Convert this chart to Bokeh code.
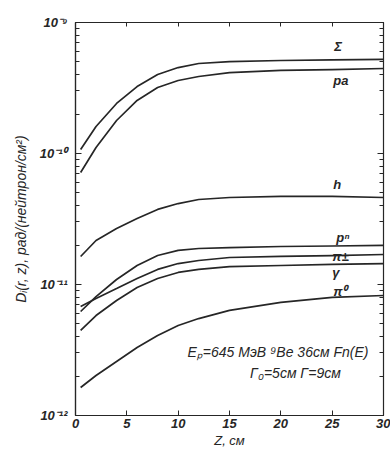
from bokeh.plotting import figure
from bokeh.models import (Range1d, LogAxis, LinearAxis, FixedTicker,
                          CustomJSTickFormatter, Label)
from bokeh.core.properties import value
from bokeh.embed import file_html
from bokeh.resources import INLINE

# depth z, cm
z = [0.5, 2, 4, 6, 8, 10, 12, 15, 20, 25, 30]

# log10 of dose values, rad/(neutron/cm^2)
sigma_log = [-9.969, -9.794, -9.618, -9.489, -9.397, -9.344, -9.313, -9.298, -9.290, -9.286, -9.282]
pa_log    = [-10.145, -9.954, -9.748, -9.595, -9.496, -9.443, -9.412, -9.382, -9.366, -9.359, -9.351]
h_log     = [-10.786, -10.664, -10.573, -10.496, -10.427, -10.382, -10.351, -10.336, -10.328, -10.328, -10.336]
p_log     = [-11.206, -11.092, -10.962, -10.855, -10.779, -10.740, -10.725, -10.718, -10.710, -10.706, -10.702]
pipm_log  = [-11.168, -11.107, -11.031, -10.954, -10.885, -10.840, -10.817, -10.794, -10.786, -10.779, -10.771]
gamma_log = [-11.351, -11.237, -11.122, -11.023, -10.954, -10.908, -10.885, -10.863, -10.855, -10.847, -10.840]
pi0_log   = [-11.786, -11.695, -11.588, -11.481, -11.389, -11.313, -11.260, -11.198, -11.137, -11.099, -11.084]

series = [sigma_log, pa_log, h_log, p_log, pipm_log, gamma_log, pi0_log]
names = ["Σ", "pa", "h", "pⁿ", "π±", "γ", "π⁰"]
# label positions (z, log10 D)
label_z = [25.2, 25.1, 25.1, 25.4, 25.0, 25.0, 25.1]
label_y = [-9.183, -9.443, -10.237, -10.641, -10.786, -10.905, -11.053]

x_ticks = [0, 5, 10, 15, 20, 25, 30]
y_ticks = [1e-12, 1e-11, 1e-10, 1e-9]
y_minor = [m * 10.0 ** e for e in (-12, -11, -10) for m in range(2, 10)]

FONT = "Liberation Sans"
INK = "#262626"

p = figure(width=390, height=452, output_backend="svg", toolbar_location=None,
           x_range=Range1d(0, 30), y_range=Range1d(1e-12, 1e-9),
           y_axis_type="log",
           min_border_left=75, min_border_top=22, min_border_right=7,
           min_border_bottom=37)
p.background_fill_color = "white"
p.border_fill_color = "white"
p.outline_line_color = INK
p.outline_line_width = 1.2
p.xgrid.visible = False
p.ygrid.visible = False

sup = CustomJSTickFormatter(code="""
const m = {'-':'⁻','0':'⁰','1':'¹','2':'²','3':'³','4':'⁴','5':'⁵','6':'⁶','7':'⁷','8':'⁸','9':'⁹'};
const e = Math.round(Math.log10(tick));
return '10' + String(e).split('').map(c => m[c]).join('');
""")
blank = CustomJSTickFormatter(code="return '';")

xa = p.xaxis[0]
xa.ticker = FixedTicker(ticks=x_ticks)
xa.major_tick_in = 5
xa.major_tick_out = 0
xa.major_label_standoff = 3
xa.axis_label = "Z, см"
xa.axis_label_standoff = 2
xa.axis_label_text_font = FONT
xa.axis_label_text_font_style = "italic"
xa.axis_label_text_font_size = "13px"
xa.major_label_text_font = FONT
xa.major_label_text_font_style = "bold italic"
xa.major_label_text_font_size = "13px"

ya = p.yaxis[0]
ya.ticker = FixedTicker(ticks=y_ticks, minor_ticks=y_minor)
ya.formatter = sup
ya.major_tick_in = 6
ya.major_tick_out = 0
ya.minor_tick_in = 4
ya.minor_tick_out = 0
ya.major_label_standoff = 8
ya.major_label_text_font = FONT
ya.major_label_text_font_style = "bold italic"
ya.major_label_text_font_size = "13px"
ya.axis_label = "Dᵢ(r, z), рад/(нейтрон/см²)"
ya.axis_label_standoff = 8
ya.axis_label_text_font = FONT
ya.axis_label_text_font_style = "italic"
ya.axis_label_text_font_size = "14px"

for ax in (xa, ya):
    ax.axis_line_color = INK
    ax.axis_line_width = 1.2
    ax.major_tick_line_color = INK
    ax.minor_tick_line_color = INK if ax is ya else None
    ax.major_label_text_color = INK
    ax.axis_label_text_color = INK

ra = LogAxis(ticker=FixedTicker(ticks=y_ticks, minor_ticks=y_minor), formatter=blank,
             major_tick_in=6, major_tick_out=0, minor_tick_in=4, minor_tick_out=0,
             major_label_standoff=0, axis_line_color=INK, major_tick_line_color=INK,
             minor_tick_line_color=INK)
p.add_layout(ra, "right")
ta = LinearAxis(ticker=FixedTicker(ticks=x_ticks), formatter=blank,
                major_tick_in=4, major_tick_out=0, minor_tick_line_color=None,
                major_label_standoff=0, axis_line_color=INK, major_tick_line_color=INK)
p.add_layout(ta, "above")

for s in series:
    p.line(z, [10.0 ** v for v in s], line_color=INK, line_width=1.7)

p.text(x=label_z, y=[10.0 ** v for v in label_y], text=names,
       text_font=value(FONT), text_font_style="bold italic", text_font_size="13px",
       text_color=INK, text_align="left", text_baseline="middle")

p.add_layout(Label(x=10.9, y=10 ** -11.519, text="Eₚ=645 МэВ ⁹Be 36см Fn(E)",
                   text_font=FONT, text_font_style="italic", text_font_size="14px",
                   text_color=INK, text_baseline="middle"))
p.add_layout(Label(x=17.0, y=10 ** -11.672, text="Γ₀=5см   Γ=9см",
                   text_font=FONT, text_font_style="italic", text_font_size="14px",
                   text_color=INK, text_baseline="middle"))

open("out.html", "w").write(file_html(p, INLINE))
